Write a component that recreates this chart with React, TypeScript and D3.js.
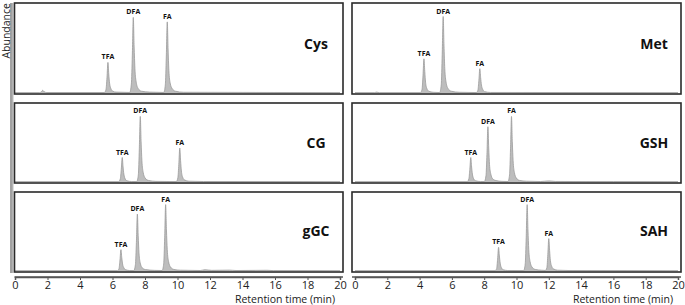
// @ts-nocheck
import * as d3 from "d3";
import { useRef, useEffect } from "react";

const W = 685;
const H = 305;

const peakNames = ["TFA", "DFA", "FA"];
const xTicks = [0, 2, 4, 6, 8, 10, 12, 14, 16, 18, 20];

// per sample: apex retention time (min) and height (% of panel)
const cysPeaks = [[5.72, 34], [7.28, 84], [9.37, 79]];
const metPeaks = [[4.27, 38], [5.46, 85], [7.73, 27]];
const cgPeaks = [[6.6, 31], [7.71, 83], [10.14, 43]];
const gshPeaks = [[7.17, 31], [8.23, 70], [9.69, 83]];
const ggcPeaks = [[6.52, 27], [7.53, 72], [9.27, 84]];
const sahPeaks = [[8.89, 30], [10.66, 84], [12.0, 41]];

// traces [time, abundance %]
const cysTrace = [
  [0, 0.4], [1.5, 0.4], [1.63, 1.5], [1.7, 3], [1.79, 1.5], [1.96, 0.5], [5.5, 0.5],
  [5.6, 4], [5.66, 17], [5.72, 34], [5.77, 21], [5.82, 11], [5.9, 5], [6.02, 2], [6.22, 1], [7.06, 0.6],
  [7.16, 10], [7.22, 42], [7.28, 84], [7.33, 52], [7.38, 27], [7.46, 12], [7.58, 5], [7.78, 2], [8.27, 1], [9.15, 0.6],
  [9.25, 9], [9.31, 40], [9.37, 79], [9.42, 49], [9.47, 25], [9.55, 11], [9.67, 5], [9.87, 2], [10.38, 0.8], [20, 0.4],
];
const metTrace = [
  [0, 0.4], [1.2, 0.4], [1.34, 1], [1.5, 0.4], [4.05, 0.4],
  [4.15, 4], [4.21, 19], [4.27, 38], [4.32, 24], [4.37, 12], [4.45, 5], [4.57, 2], [4.84, 0.8], [5.24, 0.5],
  [5.34, 9], [5.4, 43], [5.46, 85], [5.51, 53], [5.56, 27], [5.64, 12], [5.76, 5], [5.96, 2], [6.45, 0.8], [7.51, 0.5],
  [7.61, 3], [7.67, 14], [7.73, 27], [7.78, 17], [7.83, 9], [7.91, 4], [8.03, 1.5], [8.39, 0.6], [20, 0.4],
];
const cgTrace = [
  [0, 0.4], [6.38, 0.4],
  [6.48, 4], [6.54, 16], [6.6, 31], [6.65, 19], [6.7, 10], [6.78, 4], [6.9, 1.5], [7.16, 0.6], [7.49, 0.5],
  [7.59, 9], [7.65, 42], [7.71, 83], [7.76, 51], [7.81, 27], [7.89, 12], [8.01, 5], [8.21, 2], [8.67, 0.8], [9.92, 0.5],
  [10.02, 5], [10.08, 22], [10.14, 43], [10.19, 27], [10.24, 14], [10.32, 6], [10.44, 2.5], [10.7, 1], [11.6, 0.6], [20, 0.4],
];
const gshTrace = [
  [0, 0.4], [6.95, 0.4],
  [7.05, 4], [7.11, 16], [7.17, 31], [7.22, 19], [7.27, 10], [7.35, 4], [7.47, 1.5], [7.77, 0.6], [8.01, 0.5],
  [8.11, 8], [8.17, 35], [8.23, 70], [8.28, 43], [8.33, 22], [8.41, 10], [8.53, 4], [8.73, 1.8], [9.1, 0.8], [9.47, 0.6],
  [9.57, 9], [9.63, 42], [9.69, 83], [9.74, 51], [9.79, 27], [9.87, 12], [9.99, 5], [10.19, 2], [10.62, 1], [11.5, 0.6],
  [12.0, 1.4], [12.4, 0.7], [13.5, 0.6], [16, 0.5], [20, 0.4],
];
const ggcTrace = [
  [0, 0.4], [6.3, 0.4],
  [6.4, 3], [6.46, 14], [6.52, 27], [6.57, 17], [6.62, 9], [6.7, 4], [6.82, 1.5], [7.06, 0.6], [7.31, 0.5],
  [7.41, 8], [7.47, 36], [7.53, 72], [7.58, 45], [7.63, 23], [7.71, 10], [7.83, 4], [8.03, 1.8], [8.57, 0.8], [9.05, 0.6],
  [9.15, 9], [9.21, 42], [9.27, 84], [9.32, 52], [9.37, 27], [9.45, 12], [9.57, 5], [9.77, 2], [10.18, 1], [11.4, 0.6],
  [11.7, 1.6], [12.1, 0.8], [13.2, 1.1], [13.6, 0.6], [15.5, 0.9], [15.9, 0.5], [20, 0.4],
];
const sahTrace = [
  [0, 0.4], [8.67, 0.4],
  [8.77, 3], [8.83, 15], [8.89, 30], [8.94, 19], [8.99, 10], [9.07, 4], [9.19, 1.5], [9.46, 0.6], [10.44, 0.5],
  [10.54, 9], [10.6, 42], [10.66, 84], [10.71, 52], [10.76, 27], [10.84, 12], [10.96, 5], [11.16, 2], [11.53, 1], [11.78, 0.7],
  [11.88, 4], [11.94, 21], [12.0, 41], [12.05, 26], [12.1, 13], [12.18, 6], [12.3, 2.5], [12.55, 1], [13.25, 0.6], [20, 0.4],
];

const panels = [
  { name: "Cys", col: 0, row: 0, peaks: cysPeaks, trace: cysTrace },
  { name: "Met", col: 1, row: 0, peaks: metPeaks, trace: metTrace },
  { name: "CG", col: 0, row: 1, peaks: cgPeaks, trace: cgTrace },
  { name: "GSH", col: 1, row: 1, peaks: gshPeaks, trace: gshTrace },
  { name: "gGC", col: 0, row: 2, peaks: ggcPeaks, trace: ggcTrace },
  { name: "SAH", col: 1, row: 2, peaks: sahPeaks, trace: sahTrace },
];

const colBox = [[14.5, 343], [352, 681]];
const colRange = [[15, 340], [355, 678]];
const rowY = [[3, 94], [103, 183], [192, 272]];
const titleDy = [-5, 0, -1];
const axisY = 277;
const font = "'Open Sans', 'DejaVu Sans', sans-serif";

function Axis({ x }) {
  const ref = useRef();
  useEffect(() => {
    const g = d3.select(ref.current);
    g.call(d3.axisBottom(x).tickValues(xTicks).tickSize(3).tickSizeOuter(3).tickPadding(1));
    g.select(".domain").attr("stroke", "#555").attr("stroke-width", 1.5);
    g.selectAll(".tick line").attr("stroke", "#555");
    g.selectAll(".tick text").attr("font-size", 11).attr("font-family", font).attr("fill", "#222");
  }, [x]);
  return <g ref={ref} transform={`translate(0,${axisY})`} />;
}

function Panel({ p, i }) {
  const [b0, b1] = colBox[p.col];
  const [top, bottom] = rowY[p.row];
  const x = d3.scaleLinear([0, 20], colRange[p.col]);
  const y = d3.scaleLinear([0, 100], [bottom - 1, top]);
  const area = d3
    .area()
    .x((d) => x(d[0]))
    .y0(y(0))
    .y1((d) => y(d[1]))
    .curve(d3.curveMonotoneX);
  const line = d3
    .line()
    .x((d) => x(d[0]))
    .y((d) => y(d[1]))
    .curve(d3.curveMonotoneX);
  return (
    <g>
      <clipPath id={"clip" + i}>
        <rect x={b0} y={top} width={b1 - b0} height={bottom - top} />
      </clipPath>
      <g clipPath={`url(#clip${i})`}>
        <path d={area(p.trace)} fill="#bdbdbd" />
        <path d={line(p.trace)} fill="none" stroke="#9a9a9a" strokeWidth={0.8} />
      </g>
      <rect x={b0} y={top} width={b1 - b0} height={bottom - top} fill="none" stroke="#2a2a2a" strokeWidth={1.6} />
      {p.peaks.map((pk, j) => (
        <text
          key={j}
          x={x(pk[0])}
          y={y(pk[1]) - 3}
          textAnchor="middle"
          fontSize={7}
          fontWeight="bold"
          fontFamily={font}
          fill="#111"
        >
          {peakNames[j]}
        </text>
      ))}
      <text
        x={b1 - 27}
        y={(top + bottom) / 2 + 5 + titleDy[p.row]}
        textAnchor="middle"
        fontSize={14}
        fontWeight="bold"
        fontFamily={font}
        fill="#111"
      >
        {p.name}
      </text>
      {p.row === 2 && (
        <>
          <line x1={b0} x2={b1} y1={axisY} y2={axisY} stroke="#555" strokeWidth={1.5} />
          <Axis x={x} />
          <text x={b1 - 8} y={302.5} textAnchor="end" fontSize={10.5} fontFamily={font} fill="#222">
            Retention time (min)
          </text>
        </>
      )}
    </g>
  );
}

export default function App() {
  return (
    <svg
      width={W}
      height={H}
      style={{ position: "absolute", left: 0, top: 0, background: "#fff" }}
    >
      <line x1={11} x2={11} y1={3} y2={273} stroke="#444" strokeWidth={1} />
      <line x1={12.8} x2={12.8} y1={3} y2={273} stroke="#777" strokeWidth={0.8} />
      <text
        transform="translate(10,3) rotate(-90)"
        textAnchor="end"
        fontSize={10.5}
        fontFamily={font}
        fill="#222"
      >
        Abundance
      </text>
      {panels.map((p, i) => (
        <Panel key={p.name} p={p} i={i} />
      ))}
    </svg>
  );
}
